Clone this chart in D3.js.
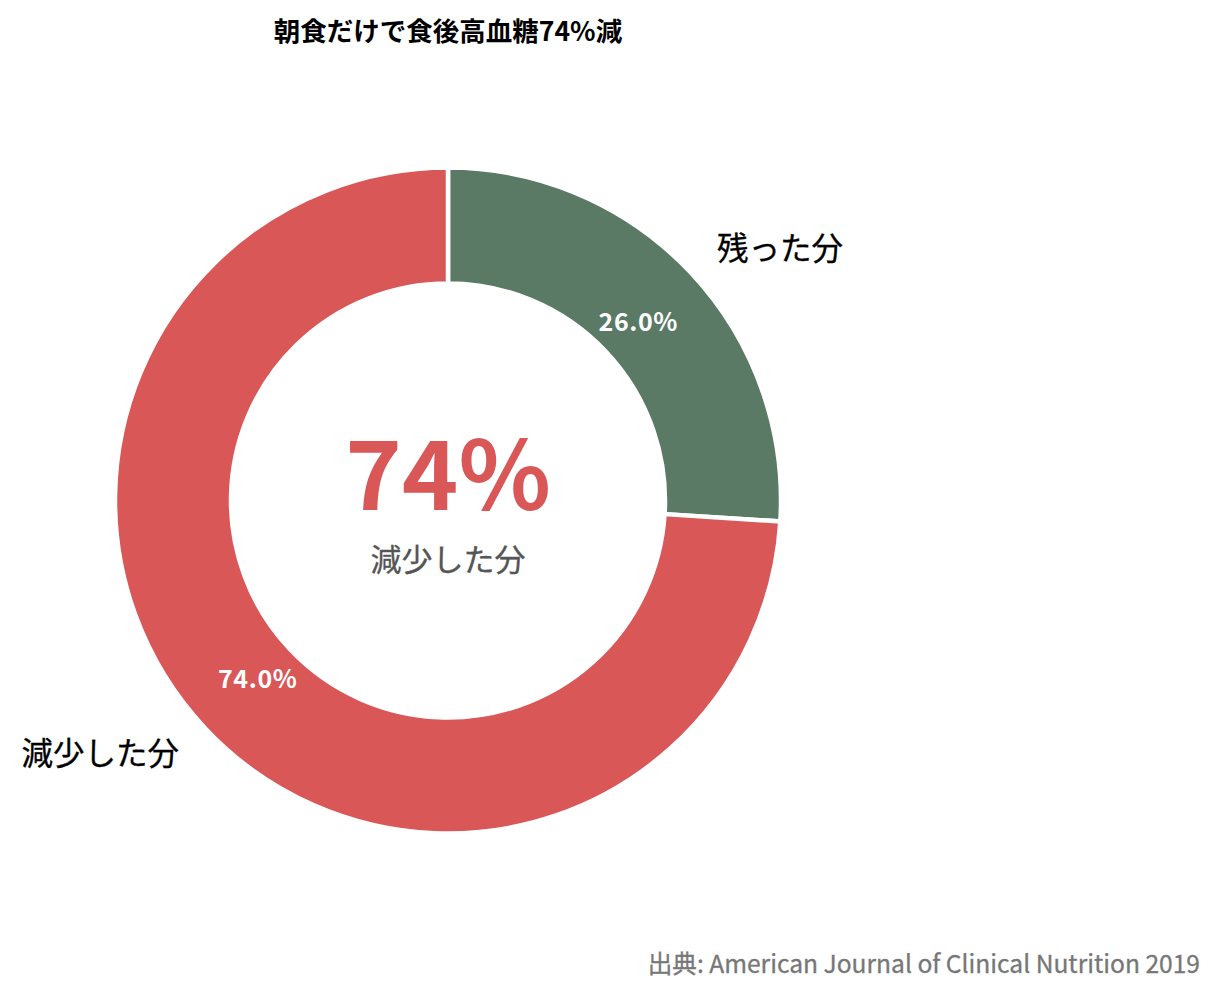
<!DOCTYPE html>
<html><head><meta charset="utf-8">
<script src="https://cdn.jsdelivr.net/npm/d3@7"></script>
<style>body{margin:0;background:#fff}svg{display:block}text{font-family:"Noto Sans CJK JP","Noto Sans",sans-serif}</style>
</head><body>
<svg id="c" width="1219" height="998"></svg>
<script>
const categories = ["残った分", "減少した分"];
const values = [26.0, 74.0];
const colors = ["#5b7a66", "#d95757"];
const title = "朝食だけで食後高血糖74%減";
const centerValue = "74%";
const centerLabel = "減少した分";
const source = "出典: American Journal of Clinical Nutrition 2019";

const svg = d3.select("#c");
const cx = 448, cy = 500.5, R = 333, r = 217;
const g = svg.append("g").attr("transform", `translate(${cx},${cy})`);
const data = categories.map((c, i) => ({cat: c, v: values[i], col: colors[i]}));
const pie = d3.pie().value(d => d.v).sort(null);
const arcs = pie(data);
const arc = d3.arc().innerRadius(r).outerRadius(R);
g.selectAll("path").data(arcs).join("path")
  .attr("d", arc).attr("fill", d => d.data.col)
  .attr("stroke", "#fff").attr("stroke-width", 4.5);

const pct = d3.arc().innerRadius(261).outerRadius(261);
g.selectAll("text.pct").data(arcs).join("text").attr("class", "pct")
  .attr("transform", d => { const c = pct.centroid(d); return `translate(${c[0]},${c[1] - 2})`; })
  .attr("text-anchor", "middle").attr("dominant-baseline", "central")
  .attr("fill", "#fff").attr("font-weight", "bold").attr("font-size", 25)
  .attr("letter-spacing", 0.6)
  .text(d => d.data.v.toFixed(1) + "%");

const lab = d3.arc().innerRadius(369).outerRadius(369);
g.selectAll("text.lab").data(arcs).join("text").attr("class", "lab")
  .attr("transform", d => { const c = lab.centroid(d); return `translate(${c[0]},${c[1] - 2})`; })
  .attr("text-anchor", d => lab.centroid(d)[0] >= 0 ? "start" : "end")
  .attr("dominant-baseline", "central")
  .attr("fill", "#000").attr("font-size", 31.5)
  .attr("stroke", "#000").attr("stroke-width", 0.3)
  .text(d => d.data.cat);

g.append("text").attr("x", 0).attr("y", 9).attr("text-anchor", "middle")
  .attr("fill", "#d95757").attr("font-weight", "bold").attr("font-size", 96)
  .text(centerValue);
g.append("text").attr("x", 0).attr("y", 70).attr("text-anchor", "middle")
  .attr("fill", "#555").attr("font-size", 31)
  .attr("stroke", "#555").attr("stroke-width", 0.3).text(centerLabel);

svg.append("text").attr("x", 448).attr("y", 41).attr("text-anchor", "middle")
  .attr("font-weight", "bold").attr("font-size", 26.5).attr("fill", "#000").text(title);
svg.append("text").attr("x", 1200).attr("y", 973).attr("text-anchor", "end")
  .attr("fill", "#777").attr("font-size", 24.6)
  .attr("stroke", "#777").attr("stroke-width", 0.3).text(source);
</script>
</body></html>
